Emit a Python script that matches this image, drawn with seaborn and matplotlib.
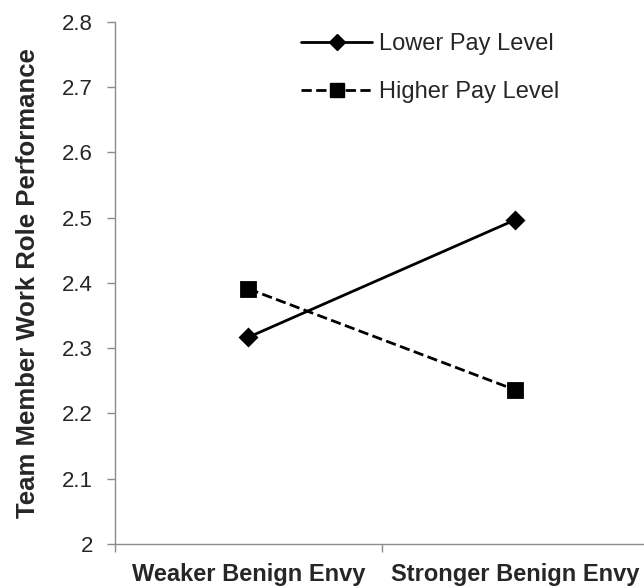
import pandas as pd
import seaborn as sns
import matplotlib.pyplot as plt

envy = ['Weaker Benign Envy', 'Stronger Benign Envy']
lower_pay = [2.317, 2.497]
higher_pay = [2.391, 2.236]
pay_levels = ['Lower Pay Level', 'Higher Pay Level']
yticks = [2.0, 2.1, 2.2, 2.3, 2.4, 2.5, 2.6, 2.7, 2.8]
ytick_labels = ['2', '2.1', '2.2', '2.3', '2.4', '2.5', '2.6', '2.7', '2.8']

df = pd.DataFrame({
    'envy': envy * 2,
    'pay': [pay_levels[0]] * 2 + [pay_levels[1]] * 2,
    'value': lower_pay + higher_pay,
})

sns.set_style('white')
plt.rcParams['font.family'] = ['Liberation Sans', 'DejaVu Sans']

fig = plt.figure(figsize=(6.44, 5.87), dpi=100)
ax = fig.add_axes([115 / 644, 43 / 587, 534 / 644, 522 / 587])

sns.pointplot(
    data=df, x='envy', y='value', hue='pay', order=envy, hue_order=pay_levels,
    palette=['black', 'black'], markers=['D', 's'], linestyles=['-', '--'],
    ax=ax, errorbar=None, dodge=False, legend=False,
)
for line, ms in zip(ax.lines, [8, 10]):
    line.set_markersize(ms)
    line.set_linewidth(2)
    line.set_clip_on(False)

ax.set_ylim(2.0, 2.8)
ax.set_xlim(-0.5, 1.5)
ax.set_yticks(yticks)
ax.set_yticklabels(ytick_labels, fontsize=16)

# category ticks between the categories, labels in the middle
ax.set_xticks([-0.5, 0.5, 1.5])
ax.set_xticklabels(['', '', ''])
ax.set_xticks([0, 1], minor=True)
ax.set_xticklabels(envy, minor=True, fontsize=17, fontweight='bold')
ax.tick_params(axis='x', which='minor', length=0, pad=14)
ax.tick_params(axis='both', which='major', direction='out', length=6,
               width=1, color='#8c8c8c', left=True, bottom=True)
ax.tick_params(axis='y', pad=10)

for side in ['top', 'right']:
    ax.spines[side].set_visible(False)
for side in ['left', 'bottom']:
    ax.spines[side].set_color('#8c8c8c')
    ax.spines[side].set_linewidth(1)

ax.set_xlabel('')
ax.set_ylabel('Team Member Work Role Performance', fontsize=18.5,
              fontweight='bold', labelpad=16)

handles = [
    plt.Line2D([], [], color='black', lw=2, ls='-', marker='D', ms=8),
    plt.Line2D([], [], color='black', lw=2, ls='--', marker='s', ms=10),
]
ax.legend(handles, pay_levels, loc='upper left', bbox_to_anchor=(0.309, 1.02),
          frameon=False, fontsize=17, handlelength=3.0, labelspacing=1.1,
          handletextpad=0.3)

fig.savefig('out.png', dpi=100)
